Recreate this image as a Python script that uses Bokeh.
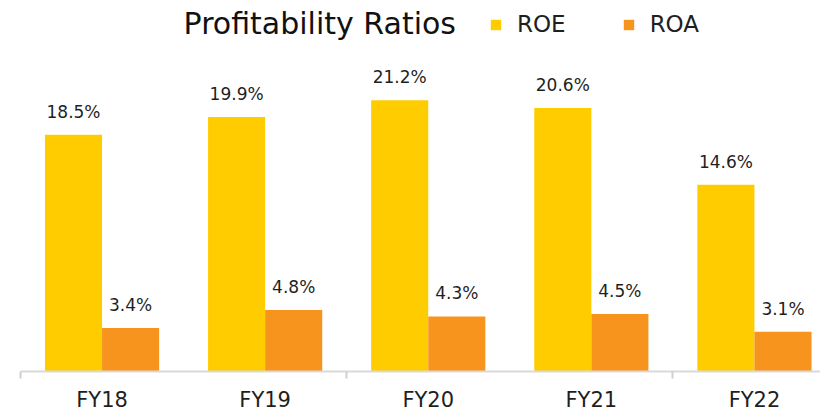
from bokeh.plotting import figure
from bokeh.models import ColumnDataSource, Range1d, FixedTicker, LabelSet, Label, Legend, LegendItem
from bokeh.transform import dodge
from bokeh.core.properties import value
from bokeh.embed import file_html
from bokeh.resources import INLINE

categories = ["FY18", "FY19", "FY20", "FY21", "FY22"]
roe = [18.5, 19.9, 21.2, 20.6, 14.6]
roa = [3.4, 4.8, 4.3, 4.5, 3.1]

FONT = "DejaVu Sans"
YELLOW = "#FFCC00"
ORANGE = "#F7941D"
TEXT = "#1f1f1f"

xpos = [i + 0.5 for i in range(len(categories))]
src = ColumnDataSource(dict(
    x=xpos, roe=roe, roa=roa,
    roe_lbl=[f"{v:.1f}%" for v in roe],
    roa_lbl=[f"{v:.1f}%" for v in roa],
))

p = figure(width=820, height=414, output_backend="svg", toolbar_location=None,
           x_range=Range1d(0, 4.905), y_range=Range1d(0, 29.0),
           y_axis_location=None, min_border_left=20, min_border_right=0,
           min_border_top=0, min_border_bottom=0)
p.outline_line_color = None
p.xgrid.visible = False
p.ygrid.visible = False
p.background_fill_color = "white"

r1 = p.vbar(x=dodge("x", -0.175, range=p.x_range), top="roe", width=0.35,
            source=src, fill_color=YELLOW, line_color=None)
r2 = p.vbar(x=dodge("x", 0.175, range=p.x_range), top="roa", width=0.35,
            source=src, fill_color=ORANGE, line_color=None)

for col, lbl, off in (("roe", "roe_lbl", -0.175), ("roa", "roa_lbl", 0.175)):
    ls = LabelSet(x=dodge("x", off, range=p.x_range), y=col, text=lbl, source=src,
                  text_align="center", text_baseline="alphabetic", y_offset=17,
                  text_font=value(FONT), text_font_size="17px", text_color=TEXT)
    p.add_layout(ls)

ax = p.xaxis[0]
ax.ticker = FixedTicker(ticks=xpos, minor_ticks=[0, 2, 4])
ax.major_label_overrides = {x: c for x, c in zip(xpos, categories)}
ax.major_label_standoff = 9
ax.major_label_text_font = FONT
ax.major_label_text_font_size = "21px"
ax.major_label_text_color = TEXT
ax.major_tick_line_color = None
ax.major_tick_out = 0
ax.major_tick_in = 0
ax.minor_tick_line_color = "#d0d0d0"
ax.minor_tick_line_width = 2
ax.minor_tick_out = 7
ax.minor_tick_in = 0
ax.axis_line_color = "#d9d9d9"
ax.axis_line_width = 2

title = Label(x=1.0, y=27.2, text="Profitability Ratios", text_font=FONT,
              text_font_size="30px", text_color="#111111", text_baseline="alphabetic")
p.add_layout(title)

legend = Legend(items=[LegendItem(label="ROE", renderers=[r1]),
                       LegendItem(label="ROA", renderers=[r2])],
                orientation="horizontal", location=(469, 334),
                glyph_width=13, glyph_height=13, label_standoff=15, spacing=56,
                padding=0, margin=0, border_line_color=None, background_fill_alpha=0,
                label_text_font=FONT, label_text_font_size="23px", label_text_color=TEXT)
p.add_layout(legend)

open("out.html", "w").write(file_html(p, INLINE))
